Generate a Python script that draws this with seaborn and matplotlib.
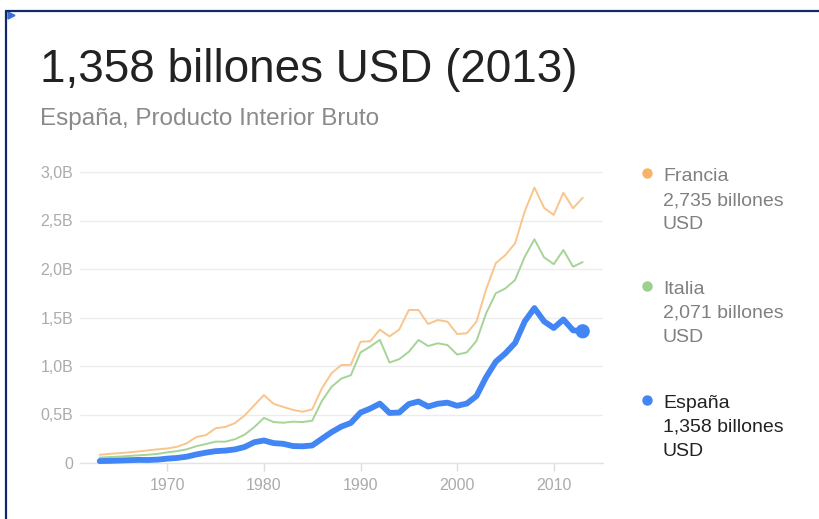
import seaborn as sns
import pandas as pd
import matplotlib.pyplot as plt
from matplotlib.lines import Line2D
from matplotlib.patches import Polygon

# --- data (billones USD = trillions) ---
years = list(range(1963, 2014))

francia = [0.085, 0.094, 0.101, 0.110, 0.119, 0.130, 0.141,
           0.150, 0.167, 0.203, 0.268, 0.288, 0.358, 0.372, 0.411, 0.490, 0.595,
           0.700, 0.610, 0.578, 0.548, 0.528, 0.553, 0.770, 0.925, 1.010, 1.012,
           1.250, 1.255, 1.375, 1.305, 1.375, 1.577, 1.577, 1.433, 1.474, 1.457,
           1.330, 1.337, 1.457, 1.790, 2.060, 2.144, 2.265, 2.595, 2.840, 2.630,
           2.557, 2.787, 2.626, 2.735]

italia = [0.056, 0.061, 0.066, 0.072, 0.079, 0.085, 0.094,
          0.110, 0.122, 0.141, 0.173, 0.196, 0.220, 0.220, 0.245, 0.292, 0.370,
          0.465, 0.422, 0.415, 0.426, 0.422, 0.436, 0.640, 0.785, 0.870, 0.905,
          1.140, 1.200, 1.270, 1.036, 1.070, 1.147, 1.268, 1.206, 1.234, 1.216,
          1.118, 1.140, 1.258, 1.543, 1.750, 1.800, 1.887, 2.127, 2.306, 2.120,
          2.050, 2.196, 2.024, 2.071]

espana = [0.020, 0.022, 0.025, 0.029, 0.032, 0.031, 0.035,
          0.045, 0.052, 0.065, 0.088, 0.107, 0.122, 0.128, 0.140, 0.165, 0.214,
          0.232, 0.205, 0.198, 0.175, 0.172, 0.181, 0.250, 0.318, 0.375, 0.413,
          0.520, 0.561, 0.612, 0.516, 0.520, 0.608, 0.634, 0.582, 0.611, 0.622,
          0.590, 0.613, 0.690, 0.885, 1.044, 1.131, 1.237, 1.460, 1.597, 1.460,
          1.392, 1.480, 1.368, 1.358]

series_names = ['Francia', 'Italia', 'España']
series_totals = ['2,735 billones', '2,071 billones', '1,358 billones']
y_ticks = [0, 0.5, 1.0, 1.5, 2.0, 2.5, 3.0]
y_tick_labels = ['0', '0,5B', '1,0B', '1,5B', '2,0B', '2,5B', '3,0B']
x_ticks = [1970, 1980, 1990, 2000, 2010]

df = pd.DataFrame({'year': years, 'Francia': francia,
                   'Italia': italia, 'España': espana})

sns.set_theme(style='white')
plt.rcParams['font.family'] = ['Liberation Sans', 'DejaVu Sans']

W, H = 820, 519
fig = plt.figure(figsize=(W / 100, H / 100), dpi=100)
fig.patch.set_facecolor('white')


def fx(px):
    return px / W


def fy(py):
    return 1 - py / H


ax = fig.add_axes([fx(80), fy(463), fx(603) - fx(80), fy(162.3) - fy(463)])

colors = {'Francia': '#f9c58c', 'Italia': '#a6d496', 'España': '#4285f4'}
dot_colors = {'Francia': '#f8b466', 'Italia': '#9bd18b', 'España': '#4285f4'}
widths = {'Francia': 1.4, 'Italia': 1.4, 'España': 4.2}

for i, name in enumerate(series_names):
    sns.lineplot(data=df, x='year', y=name, ax=ax, color=colors[name],
                 linewidth=widths[name], zorder=3 + i, clip_on=False)

# end marker for España
sns.scatterplot(x=[years[-1]], y=[espana[-1]], ax=ax, color='#4285f4',
                s=105, edgecolor='none', zorder=10, clip_on=False)

ax.set_xlim(1960.96, 2015.1)
ax.set_ylim(0, 3.1)
ax.set_yticks(y_ticks)
ax.set_yticklabels(y_tick_labels)
ax.set_xticks(x_ticks)
ax.set_xlabel('')
ax.set_ylabel('')

ax.grid(axis='y', color='#ececec', linewidth=1.0)
ax.grid(axis='x', visible=False)
for s in ['top', 'right', 'left']:
    ax.spines[s].set_visible(False)
ax.spines['bottom'].set_color('#e3e3e3')
ax.spines['bottom'].set_linewidth(1.0)
ax.tick_params(axis='y', length=0, pad=5, labelsize=11.5, labelcolor='#ababab')
ax.tick_params(axis='x', length=6, width=1, color='#dcdcdc', direction='out',
               pad=5, labelsize=11.5, labelcolor='#ababab', bottom=True)

# titles
fig.text(fx(40), fy(82), '1,358 billones USD (2013)', fontsize=33,
         color='#222222', va='baseline', ha='left')
fig.text(fx(40), fy(125), 'España, Producto Interior Bruto', fontsize=17.5,
         color='#8a8a8a', va='baseline', ha='left')

# legend on the right
base = [181, 294, 408]
for i, name in enumerate(series_names):
    tcol = '#222222' if name == 'España' else '#808080'
    fig.add_artist(Line2D([fx(647)], [fy(base[i] - 8)], marker='o',
                          markersize=6.5, color=dot_colors[name],
                          transform=fig.transFigure))
    for j, line in enumerate([name, series_totals[i], 'USD']):
        fig.text(fx(663), fy(base[i] + 24 * j), line, fontsize=14,
                 color=tcol, va='baseline', ha='left')

# frame on left / top and small corner triangle
fig.add_artist(Line2D([fx(6), fx(6)], [0, fy(10.5)], color='#10296b',
                      linewidth=1.6, transform=fig.transFigure))
fig.add_artist(Line2D([fx(6), 1], [fy(10.5), fy(10.5)], color='#10296b',
                      linewidth=1.6, transform=fig.transFigure))
fig.add_artist(Polygon([(fx(8), fy(12)), (fx(8), fy(19)), (fx(15), fy(15.5))],
                       closed=True, color='#3c6fd6',
                       transform=fig.transFigure))

fig.savefig('out.png', dpi=100)
